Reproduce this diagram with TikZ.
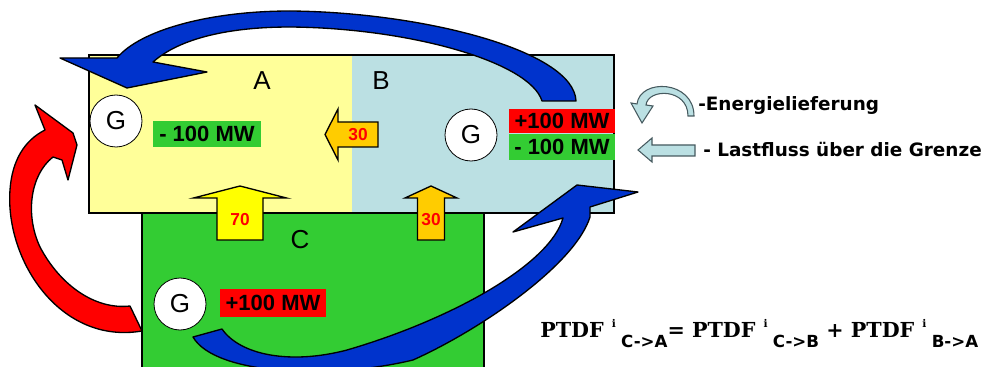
\documentclass[tikz,border=0pt]{standalone}
\usepackage{fontspec}
\setmainfont{Liberation Sans}
\newfontfamily\legendfont{DejaVu Sans}
\newfontfamily\formulafont{DejaVu Serif}

\newcommand{\ptdfterm}[1]{PTDF\hspace{6pt}\raisebox{7pt}{\fontsize{8}{8}\selectfont i}\hspace{4pt}\raisebox{-8pt}{\legendfont\bfseries\fontsize{12.5}{12.5}\selectfont #1}}

\begin{document}
\begin{tikzpicture}[x=0.75pt, y=-0.75pt,
  zonelabel/.style={inner sep=0pt, font=\fontsize{19.5}{20}\selectfont},
  gen/.style={circle, draw=black, line width=0.6pt, fill=white, minimum size=39pt, inner sep=0pt, font=\fontsize{19.5}{20}\selectfont},
  mwbox/.style={inner sep=0pt, font=\bfseries\fontsize{16.5}{17}\selectfont},
  flowval/.style={text=valred, inner sep=0pt, font=\bfseries\fontsize{13}{13}\selectfont},
  blockarrow/.style={draw=black, line width=1pt, line join=miter},
  bandarrow/.style={draw=black, line width=1pt, line join=round},
  legendtext/.style={anchor=west, inner sep=0pt, font=\legendfont\bfseries\fontsize{13.8}{14}\selectfont}]
  \definecolor{zoneyellow}{RGB}{255,255,153}
  \definecolor{zoneblue}{RGB}{187,224,227}
  \definecolor{zonegreen}{RGB}{51,204,51}
  \definecolor{mwred}{RGB}{255,0,0}
  \definecolor{flowyellow}{RGB}{255,255,0}
  \definecolor{floworange}{RGB}{255,204,0}
  \definecolor{valred}{RGB}{255,0,0}
  \definecolor{bandblue}{RGB}{0,51,204}
  \definecolor{legendline}{RGB}{70,90,95}

  \useasboundingbox (0,0) rectangle (985,367);

  % zones A, B and C
  \fill[zoneyellow] (89,55) rectangle (352,213);
  \fill[zoneblue] (352,55) rectangle (614,213);
  \draw[line width=1.2pt] (89,55) rectangle (614,213);
  \fill[zonegreen] (142,213) rectangle (484,375);
  \draw[line width=1.2pt] (142,375) -- (142,213) -- (484,213) -- (484,375);

  \node[zonelabel] (labA) at (262,81) {A};
  \node[zonelabel] (labB) at (381,81) {B};
  \node[zonelabel] (labC) at (300,240) {C};

  \node[gen] (genA) at (116,121) {G};
  \node[gen] (genB) at (471,135) {G};
  \node[gen] (genC) at (180,304) {G};

  \node[mwbox, fill=zonegreen, minimum width=81pt, minimum height=19.5pt] (loadA) at (207,134) {- 100 MW};
  \node[mwbox, fill=mwred, minimum width=79.5pt, minimum height=18pt] (supplyB) at (562,121) {+100 MW};
  \node[mwbox, fill=zonegreen, minimum width=79.5pt, minimum height=20pt, anchor=north] (loadB) at (supplyB.south) {- 100 MW};
  \node[mwbox, fill=mwred, minimum width=79.5pt, minimum height=21pt] (supplyC) at (273,303) {+100 MW};

  % flows over the borders
  \draw[blockarrow, fill=floworange] (325,134.5) -- (338,109) -- (338,122) -- (378,122)
    -- (378,147) -- (338,147) -- (338,160) -- cycle;
  \node[flowval] (flowBA) at (358,134.5) {30};

  \foreach \cx/\hs/\hh/\clr/\val/\nm in {240/23/46.5/flowyellow/70/flowCA, 431/13.5/26/floworange/30/flowCB} {
    \draw[blockarrow, fill=\clr] (\cx,186) -- (\cx+\hh,198) -- (\cx+\hs,198) -- (\cx+\hs,240)
      -- (\cx-\hs,240) -- (\cx-\hs,198) -- (\cx-\hh,198) -- cycle;
    \node[flowval] (\nm) at (\cx,220) {\val};
  }

  % energy deliveries
  \draw[bandarrow, fill=bandblue] (576,101) .. controls (574,50) and (420,12) .. (290,11)
    .. controls (210,11) and (140,30) .. (117,58)
    -- (60,58) -- (127,88) -- (207,72) -- (153,62)
    .. controls (180,38) and (230,27) .. (290,27)
    .. controls (410,28) and (530,62) .. (542,101) -- cycle;

  \draw[bandarrow, fill=bandblue] (193,337) .. controls (215,375) and (330,380) .. (413,360)
    .. controls (480,330) and (575,265) .. (590,217)
    -- (590,207) -- (638,192) -- (577,185) -- (513,232) -- (563,218)
    .. controls (550,265) and (450,320) .. (347,350)
    .. controls (290,365) and (240,355) .. (222,329) -- cycle;

  \draw[bandarrow, fill=mwred] (142,331) .. controls (60,345) and (5,260) .. (10,190)
    .. controls (12,160) and (25,140) .. (45,130)
    -- (35,105) -- (73,133) -- (77,145) -- (68,180) -- (62,160) -- (53,157)
    .. controls (30,175) and (25,215) .. (40,247)
    .. controls (60,285) and (95,310) .. (130,306) -- cycle;

  % legend
  \draw[line width=0.8pt, draw=legendline, fill=zoneblue] (694,116) .. controls (694,80) and (640,78) .. (637,104)
    -- (631,103) -- (642,123) -- (653,106) -- (646,105)
    .. controls (648,88) and (688,88) .. (688,116) -- cycle;
  \node[legendtext] (legDelivery) at (698,105) {-Energielieferung};

  \draw[line width=0.8pt, draw=legendline, fill=zoneblue] (638,150) -- (652,138) -- (652,145) -- (695,145)
    -- (695,156) -- (652,156) -- (652,162) -- cycle;
  \node[legendtext] (legFlow) at (703,150) {- Lastfluss über die Grenze};

  \node[anchor=base west, inner sep=0pt, font=\formulafont\bfseries\fontsize{15.5}{16}\selectfont] (ptdf) at (540,337)
    {\ptdfterm{C->A}= \ptdfterm{C->B} + \ptdfterm{B->A}};
\end{tikzpicture}
\end{document}
